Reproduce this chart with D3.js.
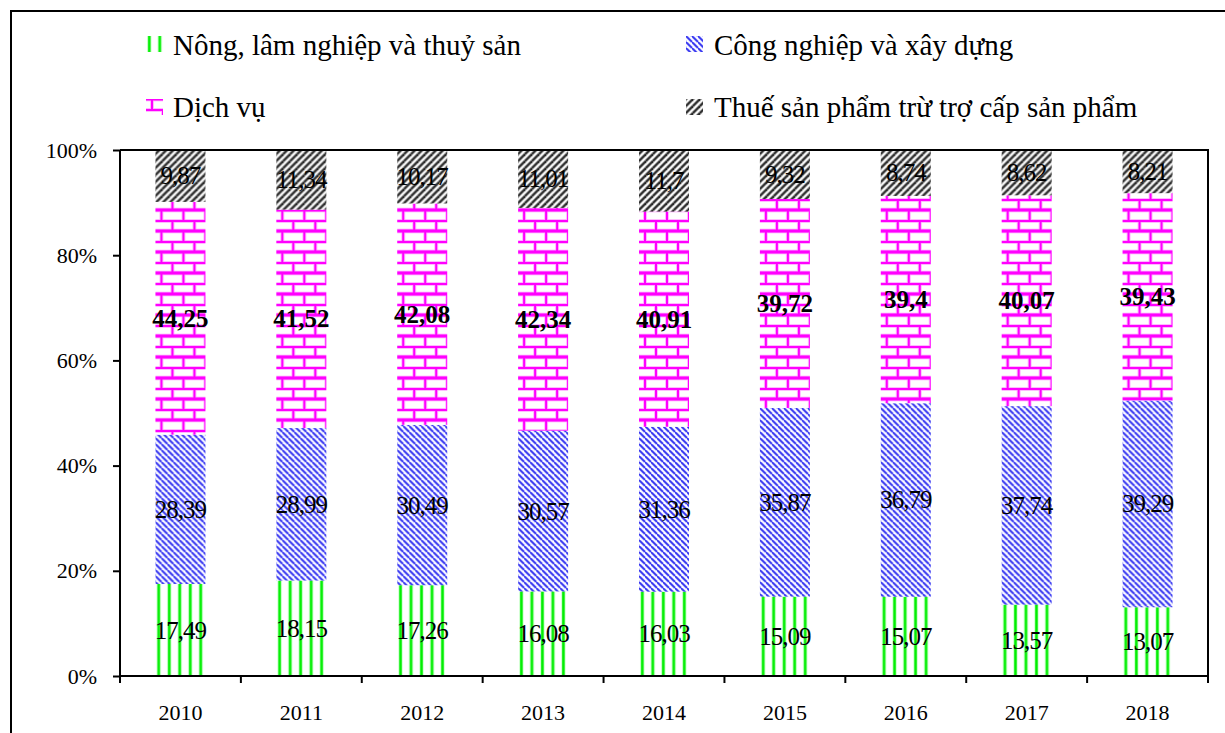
<!DOCTYPE html>
<html>
<head>
<meta charset="utf-8">
<script src="https://cdn.jsdelivr.net/npm/d3@7/dist/d3.min.js"></script>
<style>
  html, body { margin: 0; padding: 0; background: #fff; }
  svg { display: block; }
</style>
</head>
<body>
<svg id="chart" width="1225" height="733" font-family="Liberation Serif, Times New Roman, serif"></svg>
<script>
// Cơ cấu GDP theo khu vực kinh tế (%), 2010–2018
const years = ["2010", "2011", "2012", "2013", "2014", "2015", "2016", "2017", "2018"];
const agriculture = [17.49, 18.15, 17.26, 16.08, 16.03, 15.09, 15.07, 13.57, 13.07];
const industry    = [28.39, 28.99, 30.49, 30.57, 31.36, 35.87, 36.79, 37.74, 39.29];
const services    = [44.25, 41.52, 42.08, 42.34, 40.91, 39.72, 39.4, 40.07, 39.43];
const taxes       = [9.87, 11.34, 10.17, 11.01, 11.7, 9.32, 8.74, 8.62, 8.21];
const seriesNames = ["Nông, lâm nghiệp và thuỷ sản", "Công nghiệp và xây dựng", "Dịch vụ", "Thuế sản phẩm trừ trợ cấp sản phẩm"];
const yTicks = [0, 20, 40, 60, 80, 100];

const FONT = "Liberation Serif, Times New Roman, serif";
const keys = ["agri", "ind", "serv", "tax"];
const rows = years.map((y, i) => ({ year: y, agri: agriculture[i], ind: industry[i], serv: services[i], tax: taxes[i] }));

const svg = d3.select("#chart");
const defs = svg.append("defs");

// Hatch patterns for each sector
function patGreen(id) {
  const p = defs.append("pattern").attr("id", id).attr("patternUnits", "userSpaceOnUse")
    .attr("width", 10.5).attr("height", 10);
  p.append("rect").attr("width", 10.5).attr("height", 10).attr("fill", "#fff");
  p.append("rect").attr("x", 1.3).attr("width", 4).attr("height", 10).attr("fill", "#b8ffb8");
  p.append("rect").attr("x", 2.1).attr("width", 2.4).attr("height", 10).attr("fill", "#00ee00");
}
function patBlue(id) {
  const s = 6;
  const p = defs.append("pattern").attr("id", id).attr("patternUnits", "userSpaceOnUse")
    .attr("width", s).attr("height", s);
  p.append("rect").attr("width", s).attr("height", s).attr("fill", "#fff");
  [[-s, 0], [0, 0], [0, -s], [-s, s], [s, -s]].forEach(([dx, dy]) => {
    p.append("line").attr("x1", dx).attr("y1", dy).attr("x2", dx + s).attr("y2", dy + s)
      .attr("stroke", "#c0c0ff").attr("stroke-width", 3.0);
    p.append("line").attr("x1", dx).attr("y1", dy).attr("x2", dx + s).attr("y2", dy + s)
      .attr("stroke", "#3535f0").attr("stroke-width", 1.6);
  });
}
function patGray(id) {
  const s = 7;
  const p = defs.append("pattern").attr("id", id).attr("patternUnits", "userSpaceOnUse")
    .attr("width", s).attr("height", s);
  p.append("rect").attr("width", s).attr("height", s).attr("fill", "#fff");
  [[0, 0], [-s, 0], [s, 0], [0, s], [0, -s]].forEach(([dx, dy]) => {
    p.append("line").attr("x1", dx).attr("y1", dy + s).attr("x2", dx + s).attr("y2", dy)
      .attr("stroke", "#a8a8a8").attr("stroke-width", 3.4);
    p.append("line").attr("x1", dx).attr("y1", dy + s).attr("x2", dx + s).attr("y2", dy)
      .attr("stroke", "#2a2a2a").attr("stroke-width", 1.8);
  });
}
function patBrick(id) {
  const w = 22, h = 21;
  const p = defs.append("pattern").attr("id", id).attr("patternUnits", "userSpaceOnUse")
    .attr("width", w).attr("height", h);
  p.append("rect").attr("width", w).attr("height", h).attr("fill", "#fff");
  const segs = [
    [0, 0.5, w, 0.5], [0, 11, w, 11], [0, h - 0.5, w, h - 0.5],
    [6, 0, 6, 11], [17, 11, 17, h]
  ];
  [["#ffa8ff", 3.6], ["#ff00ff", 2]].forEach(([c, sw]) => {
    segs.forEach(([a, b, c2, d]) => p.append("line").attr("x1", a).attr("y1", b).attr("x2", c2).attr("y2", d)
      .attr("stroke", c).attr("stroke-width", sw));
  });
}
patGreen("p-agri"); patBlue("p-ind"); patBrick("p-serv"); patGray("p-tax");
const fills = { agri: "url(#p-agri)", ind: "url(#p-ind)", serv: "url(#p-serv)", tax: "url(#p-tax)" };

// Outer frame
svg.append("rect").attr("x", 11).attr("y", 11).attr("width", 1300).attr("height", 800)
  .attr("fill", "none").attr("stroke", "#000").attr("stroke-width", 2);

// Scales
const plotL = 120, plotR = 1208, plotT = 150, plotB = 676;
const pad = 0.5864;
const x = d3.scaleBand().domain(years).range([plotL, plotR]).paddingInner(pad).paddingOuter(pad / 2);
const y = d3.scaleLinear().domain([0, 100]).range([plotB, plotT]);

const stack = d3.stack().keys(keys)(rows);

// Bars
const barG = svg.append("g");
years.forEach((yr, i) => {
  const g = barG.append("g").attr("transform", `translate(${x(yr)},0)`);
  stack.forEach(layer => {
    const d = layer[i];
    g.append("rect")
      .attr("x", 0).attr("width", x.bandwidth())
      .attr("y", y(d[1])).attr("height", y(d[0]) - y(d[1]))
      .attr("fill", fills[layer.key]);
  });
});

// Plot frame (top and right edges)
svg.append("path").attr("d", `M${plotL},${plotT}H${plotR}V${plotB + 7}`)
  .attr("fill", "none").attr("stroke", "#000").attr("stroke-width", 2);

// Y axis
const yAxis = svg.append("g").attr("transform", `translate(${plotL},0)`)
  .call(d3.axisLeft(y).tickValues(yTicks).tickFormat(d => d + "%").tickSize(7).tickPadding(16));
yAxis.attr("font-family", FONT);
yAxis.select(".domain").attr("stroke-width", 2).attr("d", `M0,${plotT}V${plotB + 7}`);
yAxis.selectAll(".tick line").attr("stroke-width", 2);
yAxis.selectAll("text").attr("font-size", 22).attr("fill", "#000");

// X axis: line, boundary ticks, year labels
const xAxis = svg.append("g").attr("transform", `translate(0,${plotB})`)
  .call(d3.axisBottom(x).tickSize(0).tickPadding(28));
xAxis.attr("font-family", FONT);
xAxis.select(".domain").attr("stroke-width", 2).attr("d", `M${plotL},0H${plotR}`);
xAxis.selectAll("text").attr("font-size", 22).attr("fill", "#000");
const boundaries = years.map(yr => x(yr) - x.step() * pad / 2).concat([plotR]);
svg.append("g").selectAll("line").data(boundaries).join("line")
  .attr("x1", d => d).attr("x2", d => d).attr("y1", plotB).attr("y2", plotB + 7)
  .attr("stroke", "#000").attr("stroke-width", 2);

// Value labels
const fmt = v => String(v).replace(".", ",");
const lblG = svg.append("g").attr("font-family", FONT);
stack.forEach(layer => {
  layer.forEach((d, i) => {
    const v = d.data[layer.key];
    lblG.append("text")
      .attr("x", x(years[i]) + x.bandwidth() / 2)
      .attr("y", y((d[0] + d[1]) / 2))
      .attr("text-anchor", "middle").attr("dominant-baseline", "central")
      .attr("font-size", 25)
      .attr("font-weight", layer.key === "serv" ? "bold" : "normal")
      .attr("letter-spacing", layer.key === "serv" ? 0 : -1)
      .attr("fill", "#000")
      .text(fmt(v));
  });
});

// Legend
const legendPos = [
  { key: "agri", sx: 146, sy: 36, tx: 173, ty: 55 },
  { key: "ind", sx: 686, sy: 36, tx: 714, ty: 55 },
  { key: "serv", sx: 146, sy: 99, tx: 173, ty: 117 },
  { key: "tax", sx: 686, sy: 99, tx: 714, ty: 117 }
];
const legG = svg.append("g").attr("font-family", FONT);
legendPos.forEach((l, i) => {
  const g = legG.append("g").attr("transform", `translate(${l.sx},${l.sy})`);
  g.append("rect").attr("width", 17).attr("height", 16).attr("fill", fills[l.key]);
  legG.append("text").attr("x", l.tx).attr("y", l.ty).attr("font-size", 29).attr("fill", "#000")
    .text(seriesNames[i]);
});
</script>
</body>
</html>
